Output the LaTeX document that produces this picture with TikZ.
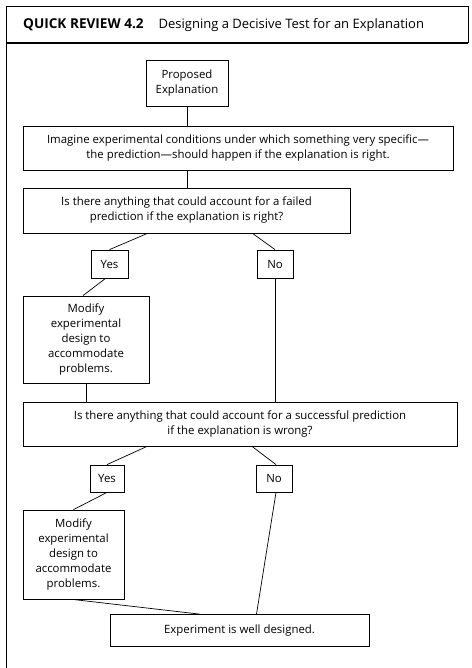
\documentclass[tikz,border=0pt]{standalone}
\usepackage{fontspec}
\setmainfont{Open Sans}
\begin{document}
\begin{tikzpicture}[
  x=1pt, y=-1pt,
  box/.style={draw, line width=0.8pt, inner sep=0pt, align=center, font=\fontsize{11.4}{15}\selectfont},
  link/.style={line width=0.7pt},
]
  \useasboundingbox (0,0) rectangle (471,668);
  \draw[line width=0.8pt] (6,668) -- (6,6) -- (468,6) -- (468,43);
  \draw[line width=1.1pt] (6,43) -- (468,43);
  \node[anchor=west, inner sep=0pt, font=\fontsize{13}{15}\selectfont] (head) at (23,25)
    {{\fontsize{13.6}{15}\selectfont\bfseries QUICK REVIEW 4.2}\hspace{15pt}Designing a Decisive Test for an Explanation};

  \node[box, minimum width=82, minimum height=46] (prop) at (187,83) {Proposed\\Explanation};
  \node[box, minimum width=430, minimum height=44] (imag) at (238,148)
    {Imagine experimental conditions under which something very specific---\\the prediction---should happen if the explanation is right.};
  \node[box, minimum width=327, minimum height=45] (fail) at (186.5,210.5)
    {Is there anything that could account for a failed\\prediction if the explanation is right?};
  \node[box, minimum width=37, minimum height=28] (yes1) at (109.5,264) {Yes};
  \node[box, minimum width=36, minimum height=28] (no1) at (275,264) {No};
  \node[box, minimum width=126, minimum height=87] (mod1) at (86,339.5)
    {Modify\\experimental\\design to\\accommodate\\problems.};
  \node[box, minimum width=434, minimum height=44] (succ) at (240,424)
    {Is there anything that could account for a successful prediction\\if the explanation is wrong?};
  \node[box, minimum width=34, minimum height=27] (yes2) at (107,478.5) {Yes};
  \node[box, minimum width=36, minimum height=27] (no2) at (274,478.5) {No};
  \node[box, minimum width=101, minimum height=89] (mod2) at (73.5,554.5)
    {Modify\\experimental\\design to\\accommodate\\problems.};
  \node[box, minimum width=259, minimum height=32] (done) at (239.5,630.5) {Experiment is well designed.};

  \draw[link] (prop.south) -- (prop.south |- imag.north);
  \draw[link] (imag.south -| prop.south) -- (fail.north -| prop.south);
  \draw[link] ([xshift=-39]fail.south) -- (yes1.north);
  \draw[link] ([xshift=66]fail.south) -- (no1.north);
  \draw[link] ([xshift=-4]yes1.south) -- ([xshift=-3]mod1.north);
  \draw[link] (no1.south) -- (no1.south |- succ.north);
  \draw[link] (mod1.south) -- (mod1.south |- succ.north);
  \draw[link] ([xshift=-93]succ.south) -- (yes2.north);
  \draw[link] ([xshift=12]succ.south) -- ([xshift=2]no2.north);
  \draw[link] (yes2.south) -- (mod2.north);
  \draw[link] ([xshift=2]no2.south) -- ([xshift=17]done.north);
  \draw[link] ([xshift=-1]mod2.south) -- ([xshift=-40]done.north);
\end{tikzpicture}
\end{document}
